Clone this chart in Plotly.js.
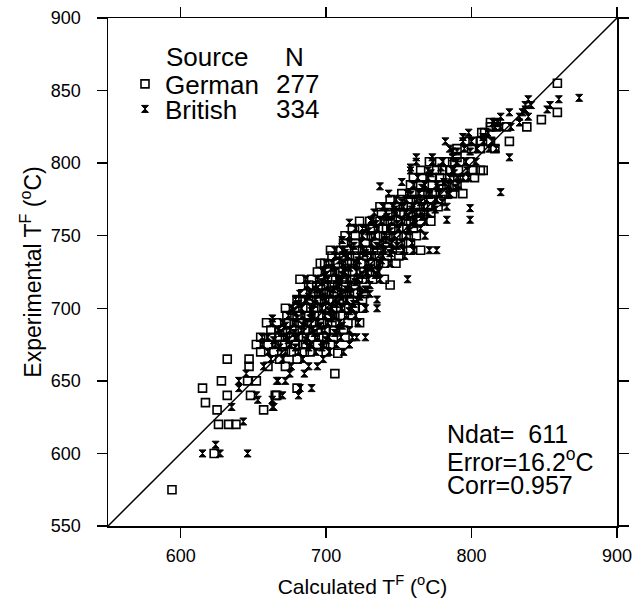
<!DOCTYPE html>
<html>
<head>
<meta charset="utf-8">
<script src="https://cdn.plot.ly/plotly-3.0.1.min.js"></script>
<style>html,body{margin:0;padding:0;background:#fff;}#chart{width:632px;height:606px;}</style>
</head>
<body>
<div id="chart"></div>
<script>
// Each row: [experimental T (°C), calculated T values (°C) ...]
const germanRows = [
  [575, 594],
  [600, 623],
  [620, 626, 633, 638],
  [630, 625, 657],
  [635, 617],
  [640, 632, 648, 665, 666],
  [645, 615, 680],
  [650, 628, 646, 652],
  [655, 706],
  [660, 647, 660, 672],
  [665, 632, 647, 668, 680],
  [669, 708],
  [670, 655, 664, 672, 676, 685, 689, 700],
  [675, 652, 660, 666, 670, 679, 684, 686, 694, 699, 703],
  [680, 655, 662, 668, 672, 676, 681, 684, 690, 695, 698, 705, 713],
  [685, 662, 668, 670, 678, 682, 686, 691, 694, 700, 705, 712],
  [690, 659, 666, 674, 678, 682, 687, 690, 697, 701, 704, 715, 723],
  [695, 673, 677, 680, 688, 692, 695, 702, 706, 710, 718],
  [700, 672, 680, 684, 686, 693, 697, 700, 707, 710, 713, 720, 725],
  [706, 680, 684, 688, 695, 699, 702, 709, 712, 716, 725],
  [710, 684, 691, 695, 698, 702, 705, 712, 716, 719, 726],
  [716, 688, 696, 700, 704, 708, 712, 720, 744],
  [720, 682, 690, 697, 701, 704, 711, 714, 718, 722, 725, 732, 740],
  [725, 694, 702, 706, 710, 714, 718, 726, 730, 734],
  [731, 696, 699, 708, 712, 716, 720, 724, 732, 736, 740, 748],
  [736, 704, 712, 716, 720, 728, 731, 735, 742, 750],
  [740, 703, 710, 714, 721, 725, 728, 735, 738, 742, 751, 758, 765],
  [745, 712, 720, 727, 734, 742, 746, 751, 758],
  [750, 713, 720, 727, 731, 734, 741, 744, 748, 755, 762],
  [755, 718, 725, 732, 736, 739, 746, 750, 753, 760],
  [760, 723, 730, 737, 740, 744, 751, 755, 758, 765, 772],
  [766, 738, 744, 748, 751, 758, 762, 765, 772],
  [770, 737, 743, 749, 753, 756, 763, 767, 770, 777],
  [775, 744, 751, 758, 762, 765, 772, 779],
  [779, 752, 759, 766, 770, 773, 780, 787, 794],
  [785, 758, 765, 773, 779, 783, 790],
  [790, 760, 766, 773, 778, 785, 795, 802],
  [795, 765, 776, 780, 785, 791, 801, 806, 808],
  [801, 771, 778, 783, 787, 792, 799],
  [804, 790],
  [810, 790, 800, 806, 816],
  [815, 797, 801, 806, 813, 826],
  [821, 807, 809],
  [825, 813, 817, 824, 838],
  [828, 813, 817],
  [830, 848],
  [835, 859],
  [855, 859]
];
const britishRows = [
  [600, 615, 627, 646],
  [606, 624],
  [622, 643],
  [632, 635, 663, 664],
  [637, 653, 663],
  [640, 652, 670, 681],
  [645, 640, 682, 690],
  [650, 640, 666, 667, 672],
  [655, 645, 675, 685],
  [660, 657, 676, 688, 694],
  [665, 662, 670, 684, 698],
  [670, 660, 672, 681, 693, 702, 712],
  [673, 668, 679, 688, 697],
  [675, 656, 665, 675, 690, 698, 707, 716],
  [678, 664, 674, 686, 700],
  [680, 656, 660, 672, 680, 687, 694, 702, 710, 718, 721, 727],
  [683, 669, 678, 692, 706],
  [685, 667, 675, 683, 690, 699, 708, 716],
  [688, 672, 684, 696, 711],
  [690, 663, 670, 678, 686, 694, 701, 709, 722],
  [693, 663, 680, 689, 704],
  [695, 674, 684, 691, 699, 706, 714, 720],
  [698, 678, 690, 702, 716],
  [700, 676, 683, 690, 697, 704, 711, 718, 727, 735],
  [703, 681, 692, 707, 719],
  [706, 679, 686, 693, 700, 707, 714, 721, 735],
  [708, 688, 698, 710, 723],
  [710, 682, 689, 696, 703, 710, 717, 724, 730],
  [713, 693, 705, 714, 727],
  [716, 687, 693, 701, 708, 716, 723, 730],
  [718, 697, 709, 720],
  [720, 686, 694, 701, 708, 715, 722, 729, 737, 756],
  [723, 700, 711, 725, 734],
  [725, 698, 706, 713, 721, 728, 736],
  [728, 704, 716, 731],
  [731, 700, 704, 712, 720, 728, 736, 744],
  [733, 709, 722, 738],
  [736, 706, 715, 723, 731, 739, 754],
  [738, 713, 727, 744],
  [740, 706, 711, 718, 725, 732, 739, 746, 753, 760, 771, 776],
  [743, 719, 735, 749],
  [745, 716, 724, 731, 738, 745, 752, 759],
  [747, 711, 741],
  [750, 716, 725, 733, 740, 747, 755, 768],
  [753, 729, 744, 757],
  [755, 720, 725, 727, 735, 743, 750, 757, 765],
  [758, 734, 749, 761],
  [759, 716],
  [760, 731, 738, 745, 752, 760, 768],
  [761, 731, 783, 799],
  [763, 742, 756, 766],
  [766, 733, 741, 748, 755, 762, 770],
  [768, 747, 759, 775],
  [769, 799],
  [770, 739, 746, 753, 760, 767, 774, 783],
  [773, 752, 765, 780],
  [775, 748, 755, 762, 769, 776],
  [778, 758, 771, 784],
  [779, 743, 756, 764, 771, 778, 785],
  [780, 820],
  [783, 766, 777, 789],
  [784, 737],
  [785, 760, 768, 776, 784, 791],
  [787, 752, 781],
  [790, 763, 770, 785, 791, 794, 798],
  [793, 772, 788],
  [795, 758, 770, 787, 797],
  [797, 758, 779],
  [801, 762, 773, 780, 790, 796, 803],
  [804, 762, 773, 787, 826],
  [808, 787, 790, 799],
  [810, 785, 795, 804, 812, 817],
  [815, 782, 794, 800, 808, 814],
  [818, 794, 808],
  [821, 798, 811],
  [825, 816, 820, 827],
  [828, 815, 818, 833],
  [832, 820, 833, 839],
  [835, 826, 835],
  [837, 837, 852],
  [840, 837, 841, 854],
  [844, 839, 860],
  [845, 874]
];
const parityLine = [550, 900];
const xTicks = [600, 700, 800, 900];
const yTicks = [550, 600, 650, 700, 750, 800, 850, 900];
const legendNames = ['German', 'British'];
const legendCounts = ['277', '334'];
const statLines = ['Ndat=&nbsp;&nbsp;611', 'Error=16.2<sup>o</sup>C', 'Corr=0.957'];

function flatten(rows) {
  const xs = [], ys = [];
  rows.forEach(r => { for (let i = 1; i < r.length; i++) { xs.push(r[i]); ys.push(r[0]); } });
  return {xs, ys};
}
const g = flatten(germanRows);
const b = flatten(britishRows);
const FONT = 'Arial, "Liberation Sans", sans-serif';
const px2x = p => (p - 108) / 509;
const px2y = p => 1 - (p - 18) / 508;

const traces = [
  {x: parityLine, y: parityLine, mode: 'lines', line: {color: '#000', width: 1.5}, showlegend: false, hoverinfo: 'skip'},
  {x: g.xs, y: g.ys, mode: 'markers', name: legendNames[0], type: 'scatter', legend: 'legend',
   marker: {symbol: 'square-open', size: 8, color: '#000', line: {width: 1.6, color: '#000'}}},
  {x: b.xs, y: b.ys, mode: 'markers', name: legendNames[1], type: 'scatter', legend: 'legend2',
   marker: {symbol: 'hourglass', size: 7, color: '#000', line: {width: 1, color: '#000'}}}
];

const axisCommon = {
  showline: true, linecolor: '#000', linewidth: 1.5, mirror: 'ticks',
  ticks: 'outside', ticklen: 10, tickwidth: 1.5, tickcolor: '#000',
  showgrid: false, zeroline: false, automargin: false, ticklabeloverflow: 'allow',
  tickfont: {family: FONT, size: 18, color: '#000'}
};

const annotations = [
  {xref: 'paper', yref: 'paper', x: px2x(164), y: px2y(57), xanchor: 'left', yanchor: 'middle', text: 'Source', showarrow: false, font: {family: FONT, size: 26, color: '#000'}},
  {xref: 'paper', yref: 'paper', x: px2x(283), y: px2y(57), xanchor: 'left', yanchor: 'middle', text: 'N', showarrow: false, font: {family: FONT, size: 26, color: '#000'}},
  {xref: 'paper', yref: 'paper', x: px2x(274), y: px2y(84), xanchor: 'left', yanchor: 'middle', text: legendCounts[0], showarrow: false, font: {family: FONT, size: 26, color: '#000'}},
  {xref: 'paper', yref: 'paper', x: px2x(274), y: px2y(109), xanchor: 'left', yanchor: 'middle', text: legendCounts[1], showarrow: false, font: {family: FONT, size: 26, color: '#000'}}
];
statLines.forEach((t, i) => {
  annotations.push({xref: 'paper', yref: 'paper', x: px2x(445), y: px2y(434 + 25.5 * i),
    xanchor: 'left', yanchor: 'middle', text: t, showarrow: false, font: {family: FONT, size: 25, color: '#000'}});
});

const legendCommon = {xanchor: 'left', yanchor: 'middle', bgcolor: 'rgba(0,0,0,0)', borderwidth: 0,
  font: {family: FONT, size: 26, color: '#000'}, itemwidth: 30};

const layout = {
  width: 632, height: 606,
  margin: {l: 108, r: 15, t: 18, b: 80, pad: 0},
  paper_bgcolor: '#fff', plot_bgcolor: '#fff',
  font: {family: FONT, color: '#000'},
  xaxis: Object.assign({}, axisCommon, {range: [550, 900], tickvals: xTicks, ticklabelstandoff: 3,
    title: {text: 'Calculated T<sup>F</sup> (<sup>o</sup>C)', font: {family: FONT, size: 21, color: '#000'}, standoff: 14}}),
  yaxis: Object.assign({}, axisCommon, {range: [550, 900], tickvals: yTicks, ticklabelstandoff: 12,
    title: {text: 'Experimental T<sup>F</sup> (<sup>o</sup>C)', font: {family: FONT, size: 23, color: '#000'}, standoff: 3}}),
  showlegend: true,
  legend: Object.assign({}, legendCommon, {x: px2x(125), y: px2y(84)}),
  legend2: Object.assign({}, legendCommon, {x: px2x(125), y: px2y(109)}),
  annotations: annotations
};

Plotly.newPlot('chart', traces, layout, {displayModeBar: false, staticPlot: true});
</script>
</body>
</html>
